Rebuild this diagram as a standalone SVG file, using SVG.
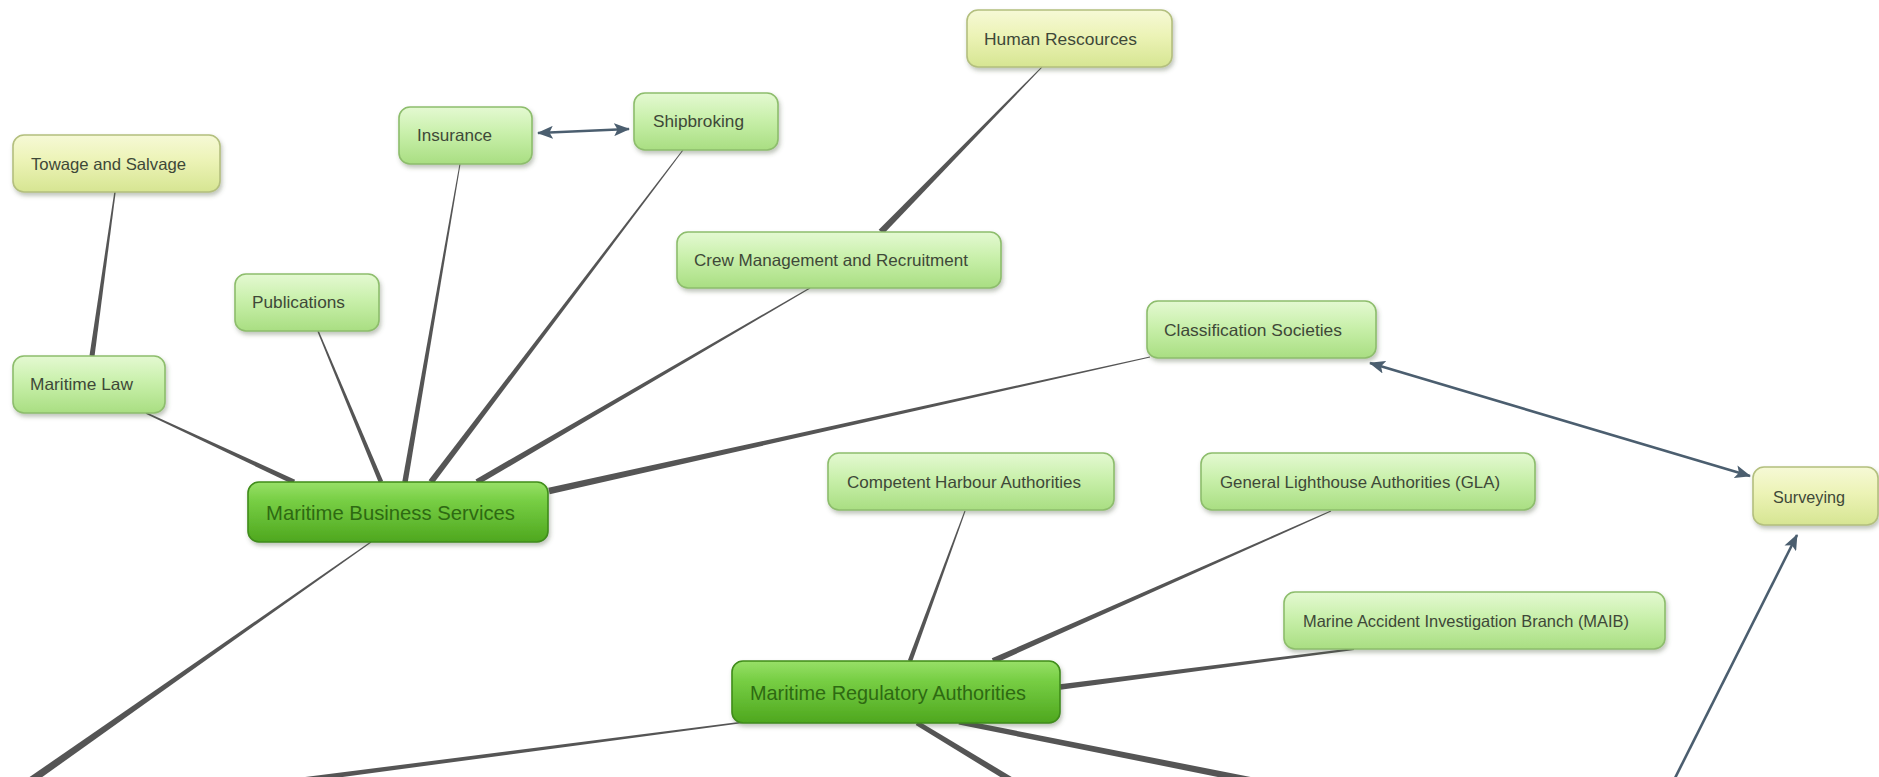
<svg xmlns="http://www.w3.org/2000/svg" width="1879" height="777" viewBox="0 0 1879 777">
<style>
.box{stroke-width:1.6}
.g{fill:url(#gGreen);stroke:#8dbd6c}
.y{fill:url(#gYellow);stroke:#b3bf7e}
.m{fill:url(#gMain);stroke:#3f8c1a}
.t{font-family:"Liberation Sans",Arial,sans-serif;font-size:16.5px;fill:#3e4838}
.tm{font-family:"Liberation Sans",Arial,sans-serif;font-size:21px;fill:#2e6a12}
.c{fill:#555555}
.a{stroke:#4b5e6f;stroke-width:2.6;fill:none}
</style>
<defs>
<linearGradient id="gGreen" x1="0" y1="0" x2="0" y2="1">
<stop offset="0" stop-color="#e4f9d2"/>
<stop offset="0.45" stop-color="#c9f0ab"/>
<stop offset="1" stop-color="#a9de82"/>
</linearGradient>
<linearGradient id="gYellow" x1="0" y1="0" x2="0" y2="1">
<stop offset="0" stop-color="#f6f9d6"/>
<stop offset="0.45" stop-color="#ecf3b6"/>
<stop offset="1" stop-color="#d6e592"/>
</linearGradient>
<linearGradient id="gMain" x1="0" y1="0" x2="0" y2="1">
<stop offset="0" stop-color="#98e068"/>
<stop offset="0.3" stop-color="#78cf45"/>
<stop offset="1" stop-color="#4ea71e"/>
</linearGradient>
<filter id="sh" x="-10%" y="-20%" width="120%" height="160%">
<feDropShadow dx="1.5" dy="3" stdDeviation="2" flood-color="#4a5a3a" flood-opacity="0.35"/>
</filter>
<marker id="ah" viewBox="0 0 16 13" refX="15" refY="6.5" markerWidth="16" markerHeight="13" markerUnits="userSpaceOnUse" orient="auto-start-reverse">
<path d="M0,0 L16,6.5 L0,13 L3.5,6.5 z" fill="#4b5e6f"/>
</marker>
</defs>
<g id="connectors">
<polygon class="c" points="114.3,191.9 89.5,355.6 94.5,356.4 115.7,192.1"/>
<polygon class="c" points="145.7,413.7 292.9,484.3 295.1,479.7 146.3,412.3"/>
<polygon class="c" points="317.3,331.3 378.9,482.9 383.1,481.1 318.7,330.7"/>
<polygon class="c" points="459.5,163.9 402.3,481.5 407.7,482.5 460.5,164.1"/>
<polygon class="c" points="682.6,149.7 428.6,480.2 433.4,483.8 683.4,150.3"/>
<polygon class="c" points="809.7,287.6 475.5,479.4 478.5,484.6 810.3,288.4"/>
<polygon class="c" points="1149.9,356.5 548.3,487.8 549.7,494.2 1150.1,357.5"/>
<polygon class="c" points="1041.6,66.7 878.7,229.7 883.3,234.3 1042.4,67.3"/>
<polygon class="c" points="370.7,541.6 17.4,785.4 21.8,791.6 371.3,542.4"/>
<polygon class="c" points="964.5,510.8 907.9,660.2 912.1,661.8 965.5,511.2"/>
<polygon class="c" points="1330.8,510.5 991.8,658.3 994.2,663.7 1331.2,511.5"/>
<polygon class="c" points="1353.9,648 1059.6,684.3 1060.4,689.7 1354.1,650"/>
<polygon class="c" points="744.9,721.3 298.9,777.8 299.5,782.8 745.1,722.7"/>
<polygon class="c" points="915.7,725.1 1021.5,790 1024.7,784.8 918.3,720.9"/>
<polygon class="c" points="958.5,724.5 1253,784.1 1254.2,777.7 959.5,719.5"/>
<line class="a" x1="538" y1="133" x2="629" y2="129" marker-start="url(#ah)" marker-end="url(#ah)"/>
<line class="a" x1="1370" y1="363" x2="1750" y2="476" marker-start="url(#ah)" marker-end="url(#ah)"/>
<line class="a" x1="1669" y1="790" x2="1797" y2="535" marker-end="url(#ah)"/>
</g>
<g id="towage"><rect class="box y" filter="url(#sh)" x="13" y="135" width="207" height="57" rx="11"/><text class="t" x="31" y="170" textLength="155" lengthAdjust="spacingAndGlyphs">Towage and Salvage</text></g>
<g id="maritime-law"><rect class="box g" filter="url(#sh)" x="13" y="356" width="152" height="57" rx="11"/><text class="t" x="30" y="390" textLength="103" lengthAdjust="spacingAndGlyphs">Maritime Law</text></g>
<g id="publications"><rect class="box g" filter="url(#sh)" x="235" y="274" width="144" height="57" rx="11"/><text class="t" x="252" y="308" textLength="93" lengthAdjust="spacingAndGlyphs">Publications</text></g>
<g id="insurance"><rect class="box g" filter="url(#sh)" x="399" y="107" width="133" height="57" rx="11"/><text class="t" x="417" y="141" textLength="75" lengthAdjust="spacingAndGlyphs">Insurance</text></g>
<g id="shipbroking"><rect class="box g" filter="url(#sh)" x="634" y="93" width="144" height="57" rx="11"/><text class="t" x="653" y="127" textLength="91" lengthAdjust="spacingAndGlyphs">Shipbroking</text></g>
<g id="human-resources"><rect class="box y" filter="url(#sh)" x="967" y="10" width="205" height="57" rx="11"/><text class="t" x="984" y="45" textLength="153" lengthAdjust="spacingAndGlyphs">Human Rescources</text></g>
<g id="crew"><rect class="box g" filter="url(#sh)" x="677" y="232" width="324" height="56" rx="11"/><text class="t" x="694" y="266" textLength="274" lengthAdjust="spacingAndGlyphs">Crew Management and Recruitment</text></g>
<g id="classification"><rect class="box g" filter="url(#sh)" x="1147" y="301" width="229" height="57" rx="11"/><text class="t" x="1164" y="336" textLength="178" lengthAdjust="spacingAndGlyphs">Classification Societies</text></g>
<g id="mbs"><rect class="box m" filter="url(#sh)" x="248" y="482" width="300" height="60" rx="11"/><text class="tm" x="266" y="520" textLength="249" lengthAdjust="spacingAndGlyphs">Maritime Business Services</text></g>
<g id="cha"><rect class="box g" filter="url(#sh)" x="828" y="453" width="286" height="57" rx="11"/><text class="t" x="847" y="488" textLength="234" lengthAdjust="spacingAndGlyphs">Competent Harbour Authorities</text></g>
<g id="gla"><rect class="box g" filter="url(#sh)" x="1201" y="453" width="334" height="57" rx="11"/><text class="t" x="1220" y="488" textLength="280" lengthAdjust="spacingAndGlyphs">General Lighthouse Authorities (GLA)</text></g>
<g id="maib"><rect class="box g" filter="url(#sh)" x="1284" y="592" width="381" height="57" rx="11"/><text class="t" x="1303" y="627" textLength="326" lengthAdjust="spacingAndGlyphs">Marine Accident Investigation Branch (MAIB)</text></g>
<g id="mra"><rect class="box m" filter="url(#sh)" x="732" y="661" width="328" height="62" rx="11"/><text class="tm" x="750" y="700" textLength="276" lengthAdjust="spacingAndGlyphs">Maritime Regulatory Authorities</text></g>
<g id="surveying"><rect class="box y" filter="url(#sh)" x="1753" y="467" width="125" height="58" rx="11"/><text class="t" x="1773" y="503" textLength="72" lengthAdjust="spacingAndGlyphs">Surveying</text></g>
</svg>
